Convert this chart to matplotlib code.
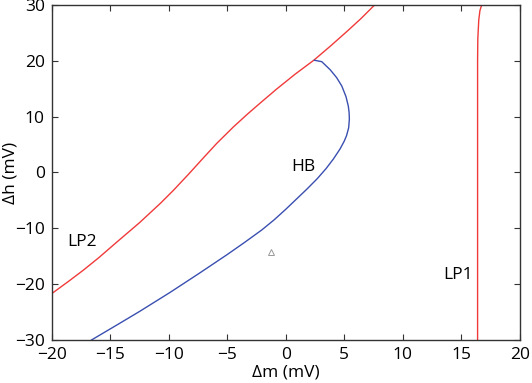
import matplotlib
matplotlib.use('Agg')
import matplotlib.pyplot as plt

plt.rcParams['font.family'] = ['Open Sans', 'DejaVu Sans']

# curva LP2 (roja, izquierda)
lp2_m = [-20.0, -18.5, -17.3, -16.0, -14.4, -12.5, -10.7, -9.6, -8.3, -7.0,
         -5.9, -4.5, -3.3, -2.2, -0.8, 0.8, 2.4, 3.8, 5.2, 6.4, 7.6]
lp2_h = [-21.7, -19.4, -17.5, -15.3, -12.4, -9.0, -5.5, -3.2, -0.3, 2.7,
         5.2, 8.1, 10.4, 12.4, 14.9, 17.6, 20.1, 22.6, 25.2, 27.5, 30.0]

# curva LP1 (roja, casi vertical)
lp1_m = [16.4, 16.4, 16.4, 16.42, 16.5, 16.6, 16.75]
lp1_h = [-30.0, 0.0, 20.1, 24.0, 27.3, 29.0, 30.0]

# curva HB (azul)
hb_m = [-16.6, -14.5, -12.5, -9.9, -7.35, -5.0, -3.5, -2.05, -1.0, 0.0, 0.9,
        1.8, 2.7, 3.45, 4.07, 4.64, 5.0, 5.2, 5.38, 5.44, 5.42, 5.35, 5.15,
        4.79, 4.35, 3.8, 3.08, 2.45]
hb_h = [-30.0, -27.4, -24.9, -21.5, -18.0, -14.7, -12.5, -10.3, -8.5, -6.6, -4.8,
        -3.0, -1.1, 0.7, 2.4, 4.2, 5.6, 6.6, 8.0, 9.55, 10.7, 11.9, 13.6,
        15.5, 17.0, 18.4, 19.85, 20.1]

# punto marcado
pto_m = [-1.3]
pto_h = [-14.2]

fig = plt.figure(figsize=(5.32, 3.83), dpi=100)
ax = fig.add_axes([0.0972, 0.1123, 0.8797, 0.8747])

ax.plot(lp2_m, lp2_h, color='#f03a3a', lw=1.0)
ax.plot(lp1_m, lp1_h, color='#f03a3a', lw=1.0)
ax.plot(hb_m, hb_h, color='#3a4fb0', lw=1.0)
ax.plot(pto_m, pto_h, marker='^', ms=4, mfc='none', mec='#999999', mew=0.7, ls='none')

ax.text(-17.44, -12.4, 'LP2', ha='center', va='center', fontsize=12.5)
ax.text(1.5, 1.0, 'HB', ha='center', va='center', fontsize=12.5)
ax.text(14.75, -18.4, 'LP1', ha='center', va='center', fontsize=12.5)

ax.set_xlim(-20, 20)
ax.set_ylim(-30, 30)
ax.set_xticks(range(-20, 21, 5))
ax.set_yticks(range(-30, 31, 10))
ax.tick_params(direction='in', top=True, right=True, labelsize=12.5, length=4,
               color='#333333', pad=5)
for s in ax.spines.values():
    s.set_color('#333333')
    s.set_linewidth(1.0)

ax.set_xlabel('\u0394m (mV)', fontsize=12.5, labelpad=1)
ax.set_ylabel('\u0394h (mV)', fontsize=12.5)
ax.yaxis.set_label_coords(-0.072, 0.5)

fig.savefig('out.png', dpi=100)
